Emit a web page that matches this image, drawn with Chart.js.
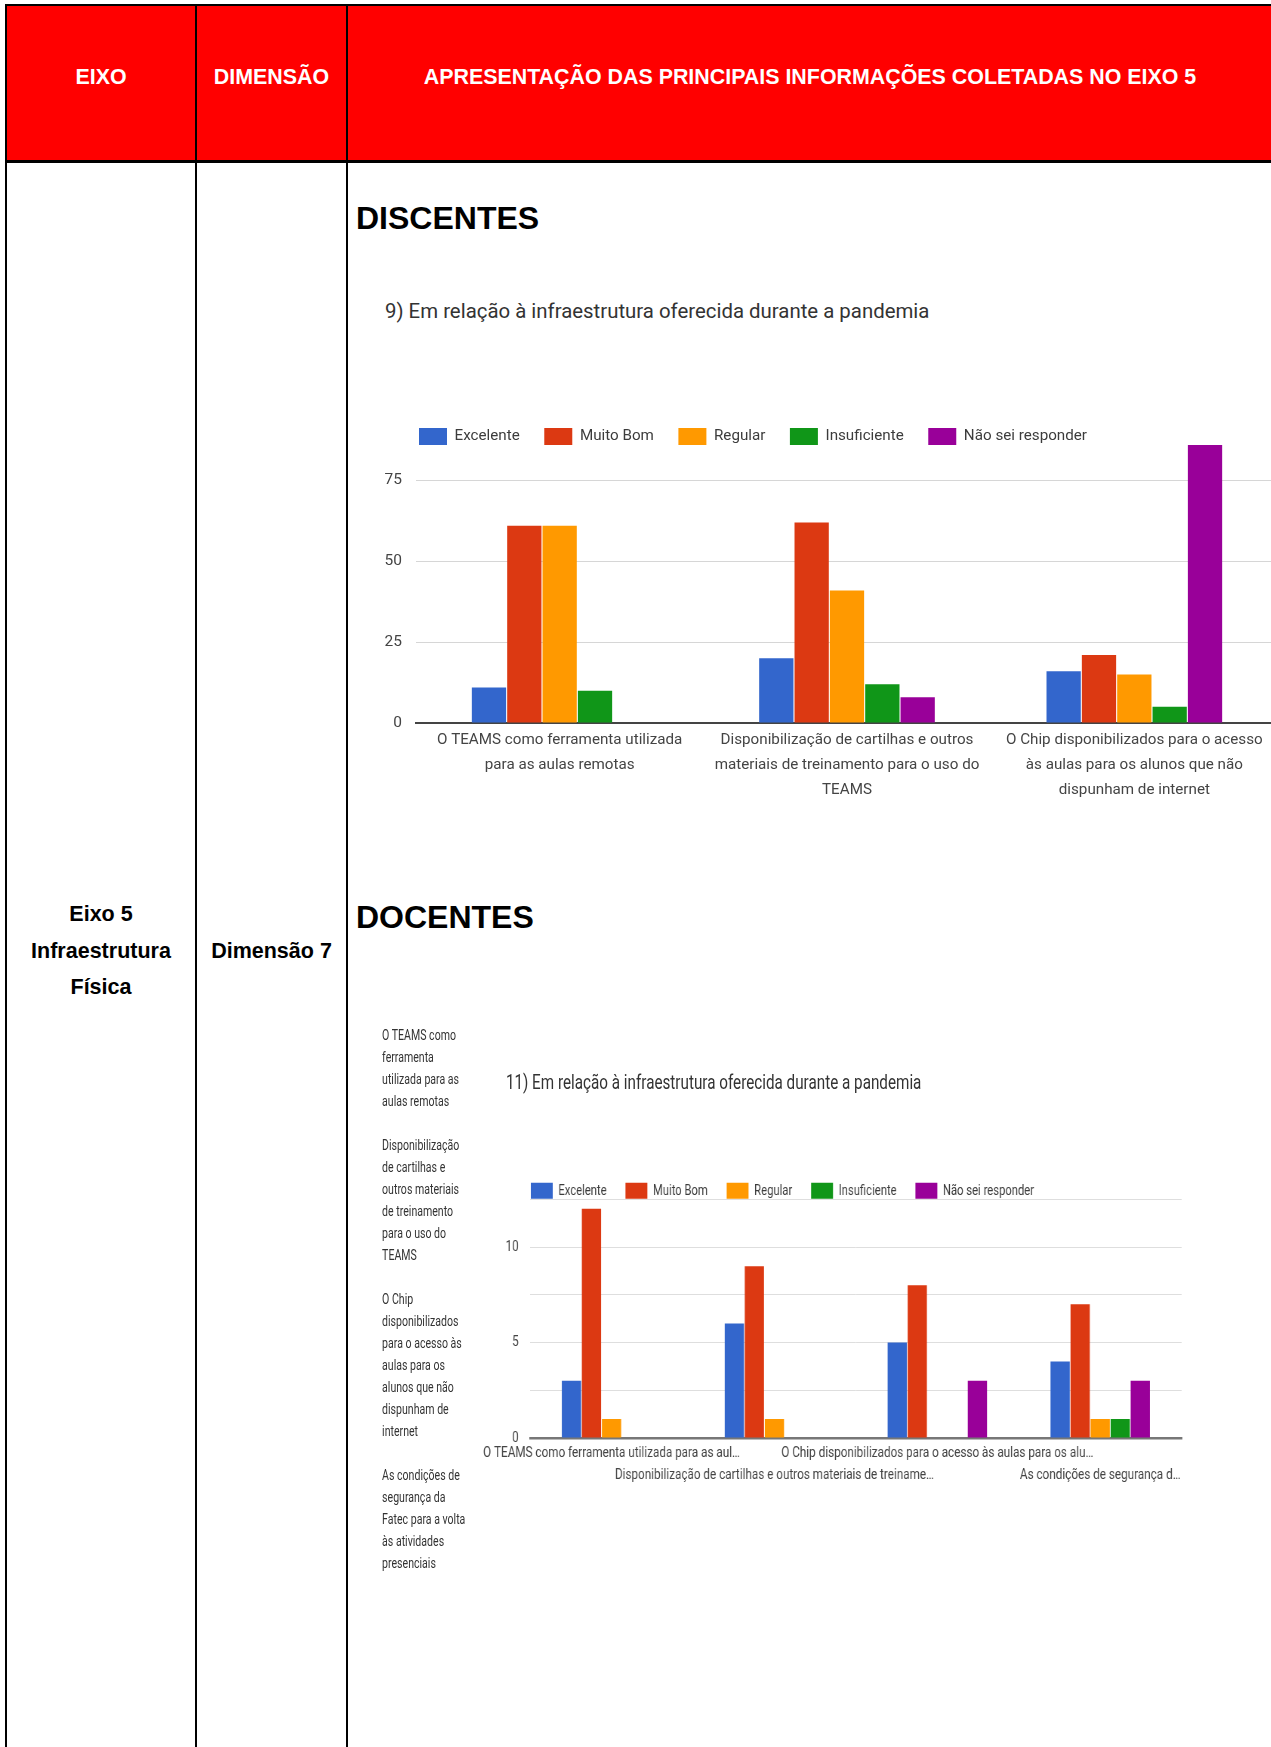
<!DOCTYPE html>
<html lang="pt-BR">
<head>
<meta charset="utf-8">
<title>Eixo 5 - Infraestrutura Física</title>
<script src="https://cdn.jsdelivr.net/npm/chart.js@4.4.1/dist/chart.umd.min.js"></script>
<style>
  html, body { margin: 0; padding: 0; background: #fff; }
  body { position: relative; width: 1271px; height: 1747px; overflow: hidden; font-family: "Liberation Sans", Arial, sans-serif; }
  .line { position: absolute; background: #000; }
  .head { position: absolute; top: 6px; height: 154px; background: #ff0000; }
  .htxt { position: absolute; top: 62px; line-height: 30px; color: #fff; font-weight: bold; font-size: 21.4px; text-align: center; white-space: nowrap; }
  .cell { position: absolute; font-weight: bold; font-size: 21.5px; line-height: 36.7px; text-align: center; color: #000; }
  .sec { position: absolute; left: 356px; font-weight: bold; font-size: 32px; line-height: 36px; color: #000; }
  .ctitle { position: absolute; font-family: Roboto, sans-serif; font-size: 20.4px; line-height: 24px; color: #333; white-space: nowrap; }
  .box { position: absolute; }
  #squash { position: absolute; left: 370px; top: 0; width: 1200px; height: 1747px; transform: scaleX(0.755); transform-origin: 0 0; }
  #catList { position: absolute; left: 16px; top: 1024px; font-family: Roboto, sans-serif; font-size: 14px; line-height: 22px; color: #333; white-space: nowrap; }
</style>
</head>
<body>
  <!-- table -->
  <div class="head" style="left:7px;width:1280px;"></div>
  <div class="line" style="left:5px;top:4px;width:1290px;height:2px;"></div>
  <div class="line" style="left:5px;top:160px;width:1290px;height:3px;"></div>
  <div class="line" style="left:5px;top:4px;width:2px;height:1760px;"></div>
  <div class="line" style="left:195px;top:4px;width:2px;height:1760px;"></div>
  <div class="line" style="left:346px;top:4px;width:2px;height:1760px;"></div>

  <div class="htxt" style="left:7px;width:188px;">EIXO</div>
  <div class="htxt" style="left:197px;width:149px;">DIMENSÃO</div>
  <div class="htxt" style="left:348px;width:924px;">APRESENTAÇÃO DAS PRINCIPAIS INFORMAÇÕES COLETADAS NO EIXO 5</div>

  <div class="cell" style="left:7px;width:188px;top:896px;">Eixo 5<br>Infraestrutura<br>Física</div>
  <div class="cell" style="left:197px;width:149px;top:933px;">Dimensão 7</div>

  <div class="sec" style="top:200px;">DISCENTES</div>
  <div class="sec" style="top:899px;">DOCENTES</div>

  <div class="ctitle" style="left:385px;top:299px;">9) Em relação à infraestrutura oferecida durante a pandemia</div>
  <div class="box" style="left:370px;top:390px;width:910px;height:418px;"><canvas id="chartDiscentes"></canvas></div>

  <div id="squash">
    <div id="catList"></div>
    <div class="ctitle" style="left:180px;top:1070px;font-size:20.2px;">11) Em relação à infraestrutura oferecida durante a pandemia</div>
    <div class="box" style="left:122px;top:1140px;width:956px;height:351px;"><canvas id="chartDocentes"></canvas></div>
  </div>

<script>
const seriesNames = ['Excelente', 'Muito Bom', 'Regular', 'Insuficiente', 'Não sei responder'];
const seriesColors = ['#3366cc', '#dc3912', '#ff9900', '#109618', '#990099'];

// discentes - pergunta 9
const discLabels = [
  ['O TEAMS como ferramenta utilizada', 'para as aulas remotas'],
  ['Disponibilização de cartilhas e outros', 'materiais de treinamento para o uso do', 'TEAMS'],
  ['O Chip disponibilizados para o acesso', 'às aulas para os alunos que não', 'dispunham de internet']
];
const discExcelente = [11, 20, 16];
const discMuitoBom = [61, 62, 21];
const discRegular = [61, 41, 15];
const discInsuficiente = [10, 12, 5];
const discNaoSei = [0, 8, 86];
const discTicks = [0, 25, 50, 75];

// docentes - pergunta 11
const docLabels = [
  ['O TEAMS como ferramenta utilizada para as aul…', ''],
  ['', 'Disponibilização de cartilhas e outros materiais de treiname…'],
  ['O Chip disponibilizados para o acesso às aulas para os alu…', ''],
  ['', 'As condições de segurança d…']
];
const docNameLines = [
  ['O TEAMS como', 'ferramenta', 'utilizada para as', 'aulas remotas'],
  ['Disponibilização', 'de cartilhas e', 'outros materiais', 'de treinamento', 'para o uso do', 'TEAMS'],
  ['O Chip', 'disponibilizados', 'para o acesso às', 'aulas para os', 'alunos que não', 'dispunham de', 'internet'],
  ['As condições de', 'segurança da', 'Fatec para a volta', 'às atividades', 'presenciais']
];
const docExcelente = [3, 6, 5, 4];
const docMuitoBom = [12, 9, 8, 7];
const docRegular = [1, 1, 0, 1];
const docInsuficiente = [0, 0, 0, 1];
const docNaoSei = [0, 0, 3, 3];
const docTicks = [0, 5, 10];

Chart.defaults.font.family = 'Roboto';
Chart.defaults.color = '#444';

// moves the legend so the boxes start where google puts them
const legendOffset = {
  id: 'legendOffset',
  afterLayout(chart, args, opts) {
    const legend = chart.legend;
    if (!legend) return;
    const pad = legend.options.labels.padding;
    legend.left = chart.chartArea.left + opts.dx - pad;
    legend.top = chart.chartArea.top + opts.dy - pad;
  }
};

function makeDatasets(values, barPct) {
  return seriesNames.map((name, i) => ({
    label: name,
    data: values[i],
    backgroundColor: seriesColors[i],
    borderWidth: 0,
    barPercentage: barPct,
    categoryPercentage: 0.615
  }));
}

document.getElementById('catList').innerHTML =
  docNameLines.map(lines => lines.join('<br>')).join('<br><br>');

new Chart(document.getElementById('chartDiscentes'), {
  type: 'bar',
  data: {
    labels: discLabels,
    datasets: makeDatasets([discExcelente, discMuitoBom, discRegular, discInsuficiente, discNaoSei], 0.97)
  },
  plugins: [legendOffset],
  options: {
    responsive: true,
    maintainAspectRatio: false,
    animation: false,
    layout: { padding: { top: 3.5, right: 2, bottom: 0, left: 0 } },
    plugins: {
      legendOffset: { dx: 3, dy: -17 },
      tooltip: { enabled: false },
      legend: {
        position: 'top',
        align: 'start',
        labels: { boxWidth: 28, boxHeight: 17, padding: 24.5, color: '#3c3c3c', font: { size: 15.2 } }
      }
    },
    scales: {
      x: {
        afterFit: s => { s.height = 85; },
        grid: { display: true, color: 'rgba(0,0,0,0)', drawTicks: false },
        border: { display: true, color: '#444', width: 2 },
        ticks: { padding: 5, autoSkip: false, maxRotation: 0, minRotation: 0, color: '#444', font: { size: 15.2, lineHeight: '24.8px' } }
      },
      y: {
        min: 0,
        max: 86,
        afterFit: s => { s.width = 46; },
        afterBuildTicks: s => { s.ticks = discTicks.map(v => ({ value: v })); },
        grid: { color: c => (c.tick && c.tick.value === 0) ? 'rgba(0,0,0,0)' : '#d6d6d6', drawTicks: false },
        border: { display: false },
        ticks: { padding: 14, color: '#444', font: { size: 15.5 } }
      }
    }
  }
});

new Chart(document.getElementById('chartDocentes'), {
  type: 'bar',
  data: {
    labels: docLabels,
    datasets: makeDatasets([docExcelente, docMuitoBom, docRegular, docInsuficiente, docNaoSei], 0.96)
  },
  plugins: [legendOffset],
  options: {
    responsive: true,
    maintainAspectRatio: false,
    animation: false,
    layout: { padding: { top: 8.3, right: 0, bottom: 0, left: 0 } },
    plugins: {
      legendOffset: { dx: 1, dy: -16.5 },
      tooltip: { enabled: false },
      legend: {
        position: 'top',
        align: 'start',
        labels: { boxWidth: 29, boxHeight: 16, padding: 25, color: '#3c3c3c', font: { size: 14.9 } }
      }
    },
    scales: {
      x: {
        afterFit: s => { s.height = 53; },
        grid: { display: true, color: 'rgba(0,0,0,0)', drawTicks: false },
        border: { display: true, color: '#777', width: 2.5 },
        ticks: { padding: 4.5, autoSkip: false, maxRotation: 0, minRotation: 0, color: '#444', font: { size: 15.5, lineHeight: '22px' } }
      },
      y: {
        min: 0,
        max: 12.5,
        afterFit: s => { s.width = 90; },
        grid: { color: c => (c.tick && c.tick.value === 0) ? 'rgba(0,0,0,0)' : '#dedede', drawTicks: false },
        border: { display: false },
        ticks: {
          stepSize: 2.5,
          padding: 15,
          color: '#444',
          font: { size: 15.5 },
          callback: v => docTicks.includes(v) ? String(v) : ''
        }
      }
    }
  }
});
</script>
</body>
</html>
